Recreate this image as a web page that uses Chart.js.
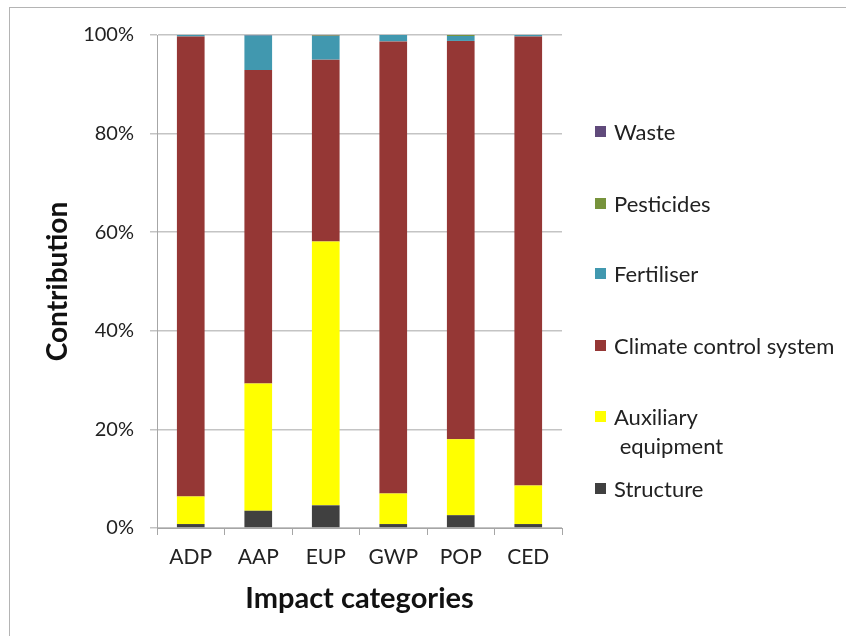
<!DOCTYPE html>
<html lang="en">
  <head>
    <meta charset="UTF-8" />
    <title>Impact categories</title>
    <script src="https://cdn.jsdelivr.net/npm/chart.js"></script>
    <style>
      body { margin: 0; background: #fff; font-family: Lato, "Open Sans", sans-serif; }
      .wrap { position: relative; width: 846px; height: 636px; overflow: hidden; }
      .frame { position: absolute; left: 9px; top: 7px; width: 900px; height: 700px; border: 1px solid #b4b4b4; }
      canvas { position: absolute; left: 0; top: 0; }
      .legend { position: absolute; left: 595px; top: 0; font-size: 22px; color: #222; }
      .legend-item { position: absolute; left: 0; white-space: nowrap; line-height: 29px; }
      .legend-item i { position: absolute; left: 0; top: 9px; width: 11px; height: 11px; }
      .legend-item span { display: block; margin-left: 19px; }
    </style>
  </head>
  <body>
    <div class="wrap">
      <div class="frame"></div>
      <canvas id="chart" width="846" height="636"></canvas>
      <div class="legend" id="legend"></div>
    </div>

    <script>
      // categories and contribution (%) per source, bottom to top
      const categories = ["ADP", "AAP", "EUP", "GWP", "POP", "CED"];
      const structure = [0.8, 3.5, 4.6, 0.8, 2.6, 0.8];
      const auxiliary = [5.6, 25.8, 53.5, 6.2, 15.4, 7.8];
      const climate = [93.3, 63.6, 36.9, 91.7, 80.8, 91.1];
      const fertiliser = [0.3, 7.0, 4.8, 1.3, 1.0, 0.3];
      const pesticides = [0, 0, 0.1, 0, 0.2, 0];
      const waste = [0, 0.1, 0.1, 0, 0, 0];
      const yTicks = [0, 20, 40, 60, 80, 100];

      const series = [
        { label: "Structure", data: structure, color: "#404040", top: 474 },
        { label: ["Auxiliary", " equipment"], data: auxiliary, color: "#ffff00", top: 402 },
        { label: "Climate control system", data: climate, color: "#953735", top: 331 },
        { label: "Fertiliser", data: fertiliser, color: "#4198af", top: 259 },
        { label: "Pesticides", data: pesticides, color: "#77933c", top: 189 },
        { label: "Waste", data: waste, color: "#604a7b", top: 117 },
      ];

      // legend on the right
      const legend = document.getElementById("legend");
      series.forEach((s) => {
        const item = document.createElement("div");
        item.className = "legend-item";
        item.style.top = s.top + "px";
        const sw = document.createElement("i");
        sw.style.background = s.color;
        item.appendChild(sw);
        const text = document.createElement("span");
        text.innerHTML = [].concat(s.label).join("<br>").replace(" equipment", "&nbsp;equipment");
        item.appendChild(text);
        legend.appendChild(item);
      });

      const font = "Lato, 'Open Sans', sans-serif";

      new Chart(document.getElementById("chart"), {
        type: "bar",
        data: {
          labels: categories,
          datasets: series.map((s) => ({
            label: [].concat(s.label).join(" "),
            data: s.data,
            backgroundColor: s.color,
            borderWidth: 0,
            barPercentage: 0.41,
            categoryPercentage: 1,
          })),
        },
        options: {
          responsive: false,
          animation: false,
          layout: { padding: { top: 35, right: 284, bottom: 0, left: 0 } },
          plugins: { legend: { display: false }, tooltip: { enabled: false } },
          scales: {
            x: {
              stacked: true,
              grid: { drawOnChartArea: false, color: "#a6a6a6", tickLength: 7, offset: true },
              border: { color: "#a6a6a6" },
              ticks: { color: "#222", font: { family: font, size: 21 }, padding: 10 },
              title: {
                display: true,
                text: "Impact categories",
                color: "#111",
                font: { family: font, size: 29, weight: "bold" },
                padding: { top: 6, bottom: 20 },
              },
              afterFit: (scale) => { scale.height = 108; },
            },
            y: {
              stacked: true,
              min: 0,
              max: 100,
              afterBuildTicks: (scale) => { scale.ticks = yTicks.map((v) => ({ value: v })); },
              grid: { color: "#c4c4c4", tickLength: 7, lineWidth: 1.5 },
              border: { color: "#a6a6a6" },
              ticks: {
                color: "#222",
                font: { family: font, size: 20 },
                padding: 16,
                callback: (v) => v + "%",
              },
              title: {
                display: true,
                text: "Contribution",
                color: "#111",
                font: { family: font, size: 28, weight: "bold" },
                padding: { top: 41, bottom: 0 },
              },
              afterFit: (scale) => { scale.width = 157; },
            },
          },
        },
      });
    </script>
  </body>
</html>
